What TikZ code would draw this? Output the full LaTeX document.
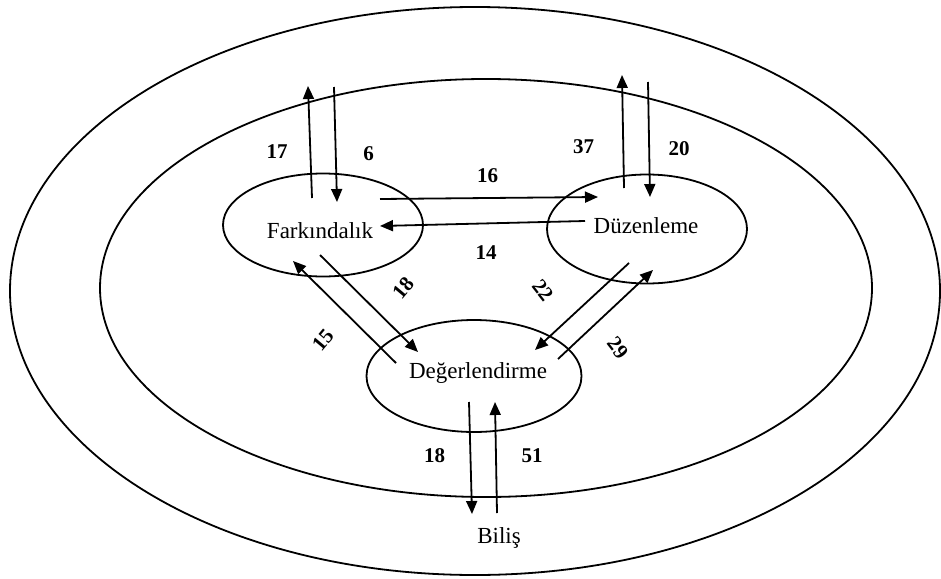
\documentclass[tikz,border=0pt]{standalone}
\usepackage{fontspec}
\setmainfont{Liberation Serif}
\usetikzlibrary{arrows.meta,shapes.geometric}

\begin{document}
\begin{tikzpicture}[>={Triangle[length=13pt,width=11pt]},x=1pt,y=-1pt,line width=1.8pt,
  zone/.style={draw,ellipse,inner sep=0pt},
  word/.style={anchor=base,font=\fontsize{23}{27}\selectfont},
  num/.style={font=\fontsize{21}{25}\selectfont\bfseries}]
  \useasboundingbox (0,0) rectangle (941,578);

  % Rings
  \draw (475,291) ellipse [x radius=465,y radius=284];
  \draw (486,288) ellipse [x radius=386,y radius=209];

  % Processes
  \node[zone,minimum width=200pt,minimum height=103pt] (fark) at (323,225) {};
  \node[zone,minimum width=200pt,minimum height=109pt] (duzen) at (647,229) {};
  \node[zone,minimum width=215pt,minimum height=112pt] (deger) at (474,376) {};
  \node[word] (farktxt) at (320,238) {Farkındalık};
  \node[word] (duzentxt) at (646,233) {Düzenleme};
  \node[word] (degertxt) at (478,378) {Değerlendirme};
  \node[word] (bilis) at (499,543) {Biliş};

  % Arrow ends
  \foreach \n/\x/\y in {fa/312/198, fb/308/86, fc/334/87, fd/337/202,
      da/624/188, db/622/75, dc/648/82, dd/650/197,
      ha/380/199, hb/598/197, hc/585/221, hd/380/226,
      la/320/255, lb/418/352, lc/396/363, ld/293/261,
      ra/629/263, rb/535/350, rc/558/359, rd/653/270,
      ba/469/402, bb/472/514, bc/497/513, bd/495/402}
    \coordinate (\n) at (\x,\y);
  \foreach \a/\b in {fa/fb, fc/fd, da/db, dc/dd, ha/hb, hc/hd,
      la/lb, lc/ld, ra/rb, rc/rd, ba/bb, bc/bd}
    \draw[->] (\a) -- (\b);

  % Counts
  \node[num] (n17) at (277,152) {17};
  \node[num] (n6) at (368.5,154) {6};
  \node[num] (n37) at (583.5,146.5) {37};
  \node[num] (n20) at (679,149) {20};
  \node[num] (n16) at (487.5,176) {16};
  \node[num] (n14) at (486,253) {14};
  \node[num,rotate=50] (n18a) at (403,288) {18};
  \node[num,rotate=50] (n15) at (323,340) {15};
  \node[num,rotate=-52] (n22) at (543,290) {22};
  \node[num,rotate=-52] (n29) at (618,348) {29};
  \node[num] (n18b) at (434.5,455.5) {18};
  \node[num] (n51) at (532,455.5) {51};
\end{tikzpicture}
\end{document}
